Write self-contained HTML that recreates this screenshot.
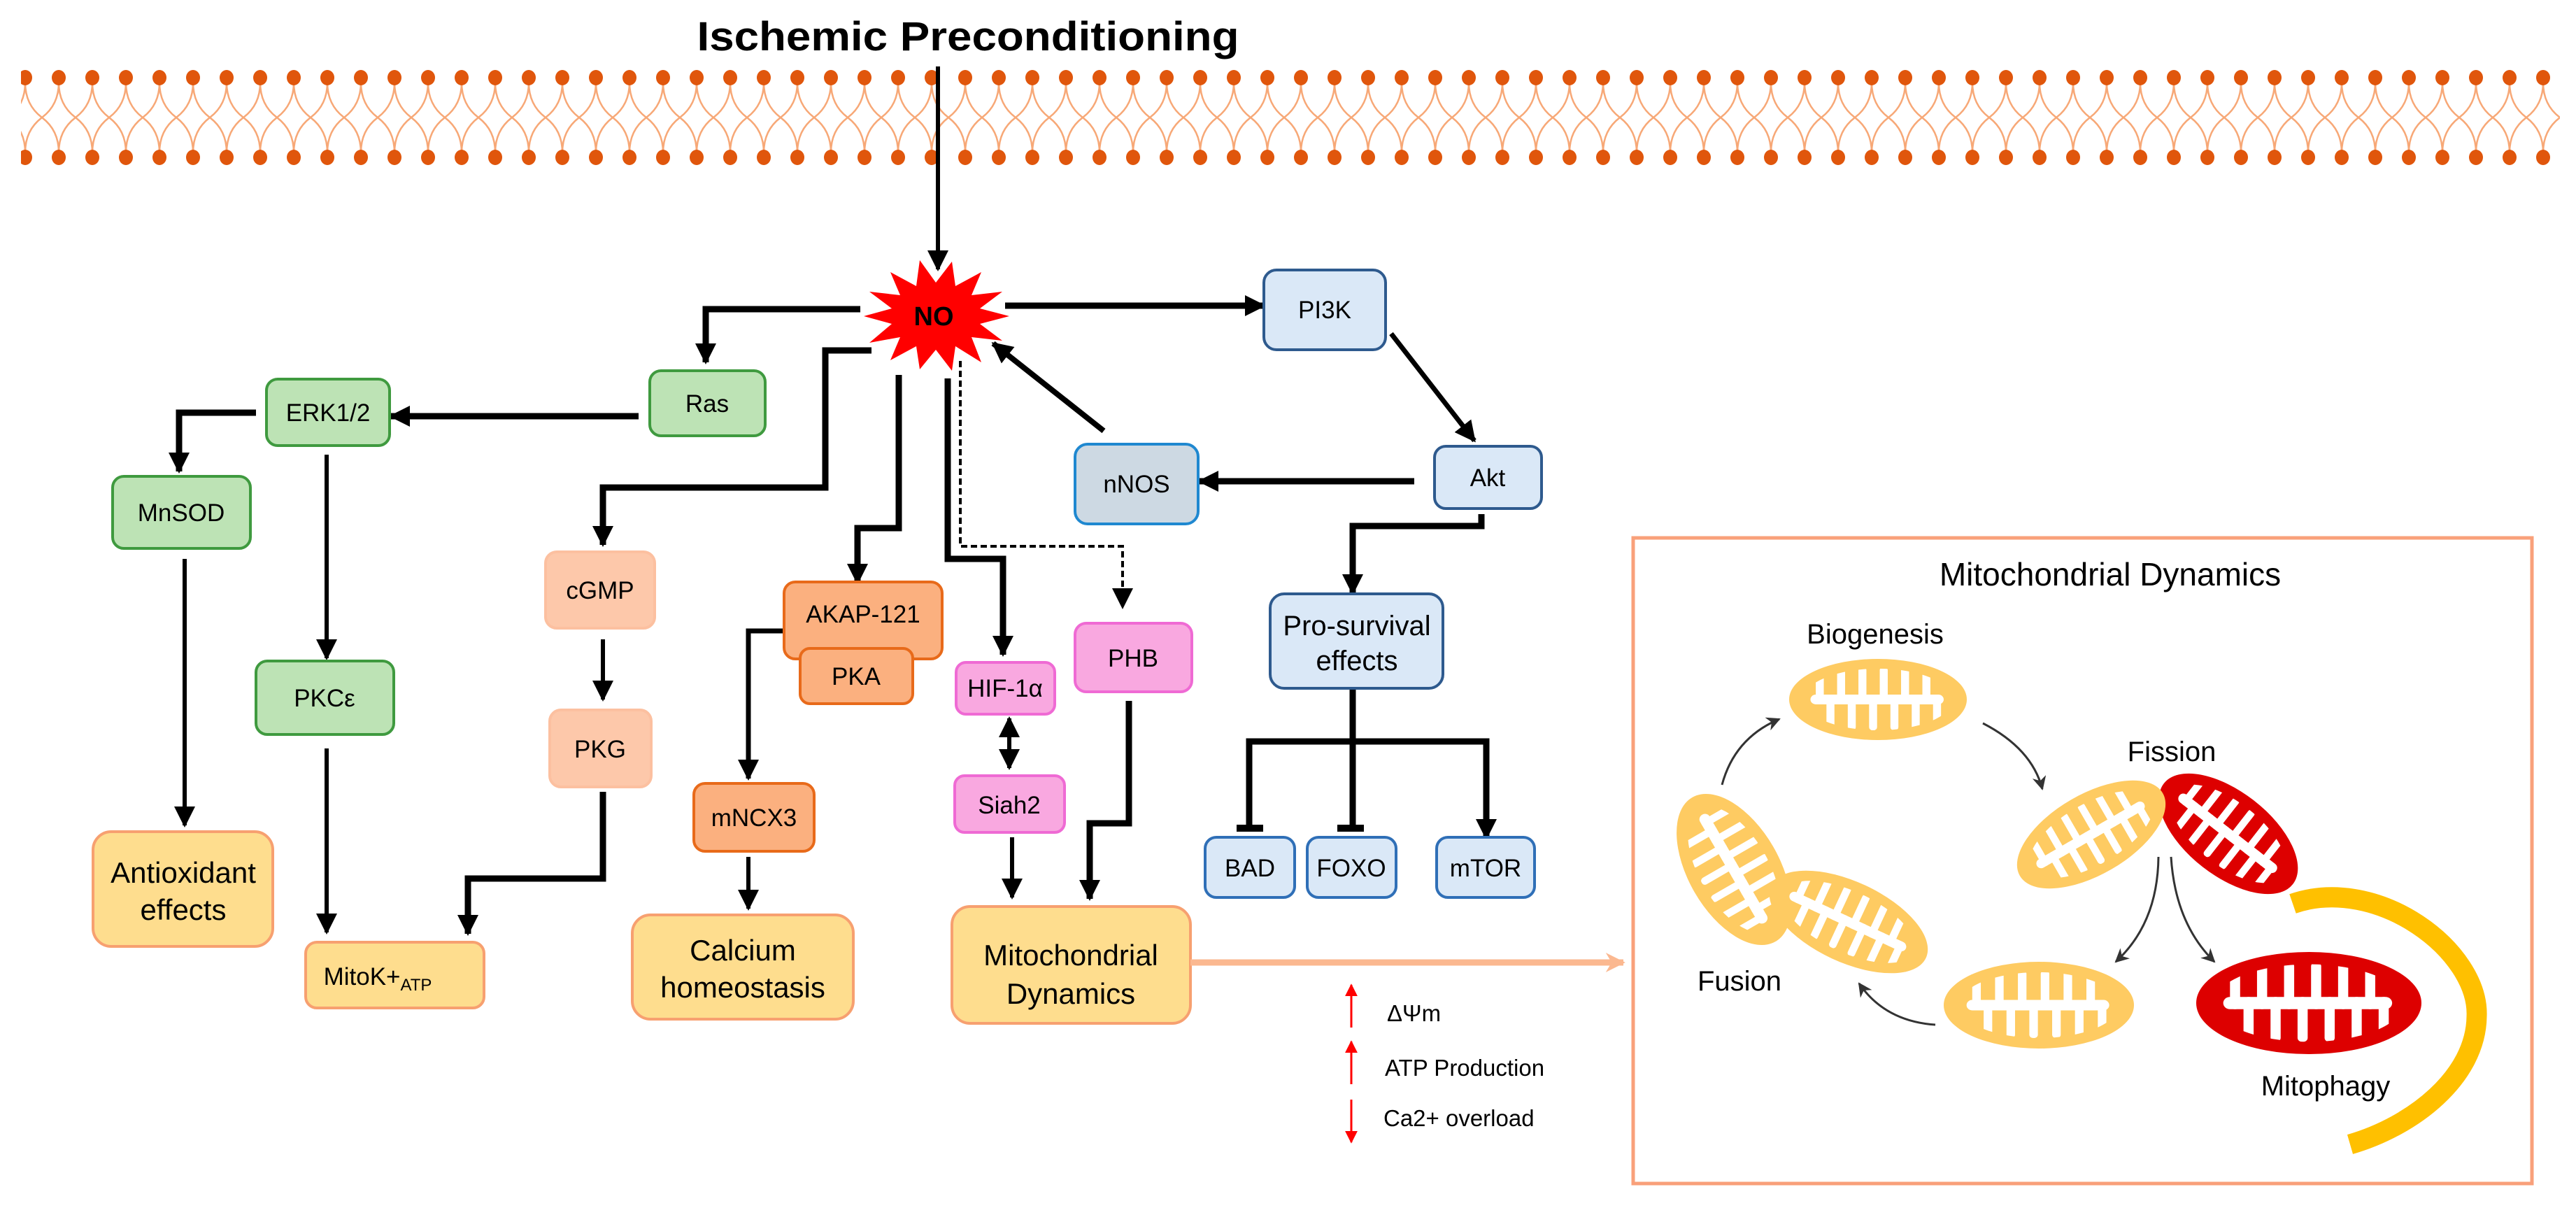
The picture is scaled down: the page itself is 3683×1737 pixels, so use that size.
<!DOCTYPE html>
<html><head><meta charset="utf-8"><style>html,body{margin:0;padding:0;background:#fff}svg{display:block}text{font-family:"Liberation Sans",Arial,sans-serif}</style></head>
<body>
<svg width="3683" height="1737" viewBox="0 0 3683 1737" xmlns="http://www.w3.org/2000/svg">
<defs>
<marker id="ah" markerUnits="userSpaceOnUse" markerWidth="30" markerHeight="30" viewBox="0 0 10 10" refX="9" refY="5" orient="auto"><path d="M0,0 L10,5 L0,10 z" fill="#000"/></marker>
<marker id="ahs" markerUnits="userSpaceOnUse" markerWidth="20" markerHeight="20" viewBox="0 0 10 10" refX="9" refY="5" orient="auto"><path d="M0,0 L10,5 L0,10 L3,5 z" fill="#333"/></marker>
<marker id="ahr" markerUnits="userSpaceOnUse" markerWidth="18" markerHeight="22" viewBox="0 0 10 10" refX="9" refY="5" orient="auto"><path d="M0,0 L10,5 L0,10 z" fill="#f00"/></marker>
<marker id="aho" markerUnits="userSpaceOnUse" markerWidth="28" markerHeight="40" viewBox="0 0 10 10" refX="9" refY="5" orient="auto"><path d="M0,0 L10,5 L0,10 L3,5 z" fill="#fbb890"/></marker>
<pattern id="mem" patternUnits="userSpaceOnUse" x="12" y="100" width="48" height="140">
<g fill="none" stroke="#f7a877" stroke-width="2.5">
<path d="M24,18 Q24,50 0,68 M24,18 Q24,50 48,68 M24,118 Q24,86 0,68 M24,118 Q24,86 48,68"/>
</g>
<ellipse cx="24" cy="11" rx="10" ry="11" fill="#e0560c"/>
<ellipse cx="24" cy="125" rx="10" ry="11" fill="#e0560c"/>
</pattern>
<clipPath id="mc"><ellipse cx="0" cy="0" rx="84" ry="38"/></clipPath>
<g id="mitoY">
<ellipse cx="0" cy="0" rx="100" ry="50" fill="#fecb62"/>
<g clip-path="url(#mc)" fill="#fff">
<rect x="-76" y="-6" width="150" height="12" rx="6"/>
<rect x="-70" y="-36" width="9" height="42" rx="4"/><rect x="-58" y="-6" width="9" height="44" rx="4"/>
<rect x="-46" y="-40" width="9" height="46" rx="4"/><rect x="-34" y="-6" width="9" height="44" rx="4"/>
<rect x="-22" y="-40" width="9" height="46" rx="4"/><rect x="-10" y="-6" width="9" height="44" rx="4"/>
<rect x="2" y="-40" width="9" height="46" rx="4"/><rect x="14" y="-6" width="9" height="44" rx="4"/>
<rect x="26" y="-40" width="9" height="46" rx="4"/><rect x="38" y="-6" width="9" height="44" rx="4"/>
<rect x="50" y="-40" width="9" height="46" rx="4"/><rect x="62" y="-6" width="9" height="44" rx="4"/>
</g>
</g>
<g id="mitoR">
<ellipse cx="0" cy="0" rx="100" ry="50" fill="#dd0000"/>
<g clip-path="url(#mc)" fill="#fff">
<rect x="-76" y="-6" width="150" height="12" rx="6"/>
<rect x="-70" y="-36" width="9" height="42" rx="4"/><rect x="-58" y="-6" width="9" height="44" rx="4"/>
<rect x="-46" y="-40" width="9" height="46" rx="4"/><rect x="-34" y="-6" width="9" height="44" rx="4"/>
<rect x="-22" y="-40" width="9" height="46" rx="4"/><rect x="-10" y="-6" width="9" height="44" rx="4"/>
<rect x="2" y="-40" width="9" height="46" rx="4"/><rect x="14" y="-6" width="9" height="44" rx="4"/>
<rect x="26" y="-40" width="9" height="46" rx="4"/><rect x="38" y="-6" width="9" height="44" rx="4"/>
<rect x="50" y="-40" width="9" height="46" rx="4"/><rect x="62" y="-6" width="9" height="44" rx="4"/>
</g>
</g>
</defs>

<text x="1384" y="72" font-size="58" font-weight="bold" text-anchor="middle" textLength="775" lengthAdjust="spacingAndGlyphs">Ischemic Preconditioning</text>

<rect x="30" y="100" width="3630" height="140" fill="url(#mem)"/>

<g fill="none" stroke="#000" stroke-width="9">
<path d="M1341,95 V385" stroke-width="6" marker-end="url(#ah)"/>
<path d="M1437,437 H1807" marker-end="url(#ah)"/>
<path d="M1989,477 L2108,630" stroke-width="7" marker-end="url(#ah)"/>
<path d="M2022,688 H1715" marker-end="url(#ah)"/>
<path d="M1578,616 L1420,491" stroke-width="8" marker-end="url(#ah)"/>
<path d="M1230,442 H1009 V518" marker-end="url(#ah)"/>
<path d="M913,595 H559" marker-end="url(#ah)"/>
<path d="M366,590 H256 V674" marker-end="url(#ah)"/>
<path d="M264,799 V1180" stroke-width="6" marker-end="url(#ah)"/>
<path d="M467,650 V941" stroke-width="6" marker-end="url(#ah)"/>
<path d="M467,1070 V1333" stroke-width="6" marker-end="url(#ah)"/>
<path d="M1246,501 H1180 V697 H862 V779" marker-end="url(#ah)"/>
<path d="M862,914 V1000" stroke-width="6" marker-end="url(#ah)"/>
<path d="M862,1132 V1256 H669 V1335" marker-end="url(#ah)"/>
<path d="M1285,536 V755 H1226 V833" marker-end="url(#ah)"/>
<path d="M1121,902 H1070 V1113" stroke-width="7" marker-end="url(#ah)"/>
<path d="M1070,1225 V1299" stroke-width="6" marker-end="url(#ah)"/>
<path d="M1355,541 V799 H1434 V936" marker-end="url(#ah)"/>
<path d="M1443,1050 V1098" stroke-width="6" marker-end="url(#ah)"/>
<path d="M1443,1075 V1027" stroke-width="6" marker-end="url(#ah)"/>
<path d="M1447,1197 V1283" stroke-width="6" marker-end="url(#ah)"/>
<path d="M1373,516 V781 H1605 V868" stroke-width="4" stroke-dasharray="9,5" marker-end="url(#ah)"/>
<path d="M1614,1002 V1177 H1558 V1285" marker-end="url(#ah)"/>
<path d="M2118,735 V752 H1934 V848" marker-end="url(#ah)"/>
<path d="M1934,984 V1186 M1786,1186 V1060 H2125 V1198"/>
<path d="M2125,1150 V1198" marker-end="url(#ah)"/>
<path d="M1768,1184 H1806 M1912,1184 H1950" stroke-width="10"/>
</g>

<polygon points="1443,452 1401,463 1433,487 1389,482 1403,518 1366,495 1361,530 1338,500 1315,528 1310,495 1273,515 1287,482 1243,490 1275,463 1235,452 1275,441 1243,417 1287,422 1273,389 1310,409 1315,372 1338,404 1361,374 1366,409 1403,389 1389,422 1433,417 1401,441" fill="#ff0000"/>
<text x="1335" y="465" font-size="38" font-weight="bold" text-anchor="middle">NO</text>

<g stroke-width="4">
<rect x="1807" y="386" width="174" height="114" rx="18" fill="#dae8f7" stroke="#2e5a8e"/>
<rect x="2051" y="638" width="153" height="89" rx="16" fill="#dae8f7" stroke="#2e5a8e"/>
<rect x="1537" y="635" width="176" height="114" rx="18" fill="#cdd9e3" stroke="#1f88d0"/>
<rect x="929" y="530" width="165" height="93" rx="16" fill="#bde3b5" stroke="#3f9a3f"/>
<rect x="381" y="542" width="176" height="95" rx="16" fill="#bde3b5" stroke="#3f9a3f"/>
<rect x="161" y="681" width="197" height="103" rx="16" fill="#bde3b5" stroke="#3f9a3f"/>
<rect x="366" y="945" width="197" height="105" rx="16" fill="#bde3b5" stroke="#3f9a3f"/>
<rect x="133" y="1189" width="257" height="164" rx="26" fill="#fedd8e" stroke="#f7a070"/>
<rect x="437" y="1347" width="255" height="94" rx="16" fill="#fedd8e" stroke="#f7a070"/>
<rect x="904" y="1308" width="316" height="149" rx="26" fill="#fedd8e" stroke="#f7a070"/>
<rect x="1361" y="1296" width="341" height="167" rx="26" fill="#fedd8e" stroke="#f7a070"/>
<rect x="780" y="789" width="156" height="109" rx="16" fill="#fdc8aa" stroke="#fcc0a0"/>
<rect x="786" y="1015" width="145" height="110" rx="16" fill="#fdc8aa" stroke="#fcc0a0"/>
<rect x="1121" y="832" width="226" height="110" rx="16" fill="#fbb07f" stroke="#e86a1a"/>
<rect x="1144" y="927" width="161" height="79" rx="14" fill="#fbb07f" stroke="#e86a1a"/>
<rect x="992" y="1120" width="172" height="97" rx="16" fill="#fbb07f" stroke="#e86a1a"/>
<rect x="1367" y="947" width="141" height="74" rx="14" fill="#f9a8e0" stroke="#ef6ad4"/>
<rect x="1365" y="1109" width="157" height="81" rx="14" fill="#f9a8e0" stroke="#ef6ad4"/>
<rect x="1537" y="891" width="167" height="98" rx="16" fill="#f9a8e0" stroke="#ef6ad4"/>
<rect x="1816" y="849" width="247" height="135" rx="20" fill="#dae8f7" stroke="#2e5a8e"/>
<rect x="1723" y="1197" width="128" height="86" rx="16" fill="#dae8f7" stroke="#2f6fb7"/>
<rect x="1869" y="1197" width="127" height="86" rx="16" fill="#dae8f7" stroke="#2f6fb7"/>
<rect x="2054" y="1197" width="140" height="86" rx="16" fill="#dae8f7" stroke="#2f6fb7"/>
</g>

<g font-size="35" text-anchor="middle">
<text x="1894" y="455">PI3K</text>
<text x="2127" y="695">Akt</text>
<text x="1625" y="704">nNOS</text>
<text x="1011" y="589">Ras</text>
<text x="469" y="602">ERK1/2</text>
<text x="259" y="745">MnSOD</text>
<text x="464" y="1010">PKC&#949;</text>
<text x="858" y="856">cGMP</text>
<text x="858" y="1083">PKG</text>
<text x="1234" y="890">AKAP-121</text>
<text x="1224" y="979">PKA</text>
<text x="1078" y="1181">mNCX3</text>
<text x="1437" y="996">HIF-1&#945;</text>
<text x="1443" y="1163">Siah2</text>
<text x="1620" y="953">PHB</text>
<text x="1787" y="1253">BAD</text>
<text x="1932" y="1253">FOXO</text>
<text x="2124" y="1253">mTOR</text>
<text x="540" y="1408">MitoK+<tspan font-size="24" dy="8">ATP</tspan></text>
</g>
<g font-size="42" text-anchor="middle">
<text x="262" y="1262">Antioxidant</text><text x="262" y="1315">effects</text>
<text x="1062" y="1373">Calcium</text><text x="1062" y="1426">homeostasis</text>
<text x="1531" y="1380">Mitochondrial</text><text x="1531" y="1435">Dynamics</text>
<text x="1940" y="908" font-size="40">Pro-survival</text><text x="1940" y="958" font-size="40">effects</text>
</g>

<path d="M1702,1376 H2321" stroke="#fbb890" stroke-width="9" fill="none" marker-end="url(#aho)"/>

<g stroke="#f00" stroke-width="3" fill="none">
<path d="M1932,1469 V1408" marker-end="url(#ahr)"/>
<path d="M1932,1550 V1489" marker-end="url(#ahr)"/>
<path d="M1932,1572 V1633" marker-end="url(#ahr)"/>
</g>
<g font-size="33">
<text x="1983" y="1460">&#916;&#936;m</text>
<text x="1980" y="1538">ATP Production</text>
<text x="1978" y="1610">Ca2+ overload</text>
</g>

<rect x="2335" y="769" width="1285" height="923" fill="none" stroke="#f9a07a" stroke-width="5"/>
<text x="3017" y="837" font-size="46" text-anchor="middle">Mitochondrial Dynamics</text>
<text x="2681" y="920" font-size="40" text-anchor="middle">Biogenesis</text>
<text x="3105" y="1088" font-size="40" text-anchor="middle">Fission</text>
<text x="2487" y="1416" font-size="40" text-anchor="middle">Fusion</text>
<text x="3325" y="1566" font-size="40" text-anchor="middle">Mitophagy</text>

<path d="M3278,1292 C3400,1250 3545,1360 3541,1453 C3540,1540 3450,1610 3360,1636" fill="none" stroke="#ffc000" stroke-width="29"/>

<use href="#mitoY" transform="translate(2685,1000) scale(1.27,1.16)"/>
<use href="#mitoY" transform="translate(2479,1243) rotate(60) scale(1.19,1.3)"/>
<use href="#mitoY" transform="translate(2643,1318) rotate(25) scale(1.22,1.15)"/>
<use href="#mitoR" transform="translate(3186,1192) rotate(38) scale(1.17,1.2)"/>
<use href="#mitoY" transform="translate(2990,1193) rotate(-30) scale(1.18,1.15)"/>
<use href="#mitoY" transform="translate(2915,1437) scale(1.36,1.24)"/>
<use href="#mitoR" transform="translate(3301,1434) scale(1.61,1.46)"/>

<g fill="none" stroke="#333" stroke-width="3">
<path d="M2462,1122 Q2480,1055 2544,1028" marker-end="url(#ahs)"/>
<path d="M2835,1034 Q2905,1070 2920,1128" marker-end="url(#ahs)"/>
<path d="M3086,1225 Q3085,1320 3025,1375" marker-end="url(#ahs)"/>
<path d="M3104,1225 Q3110,1320 3166,1375" marker-end="url(#ahs)"/>
<path d="M2767,1465 Q2695,1460 2658,1406" marker-end="url(#ahs)"/>
</g>
</svg>
</body></html>
